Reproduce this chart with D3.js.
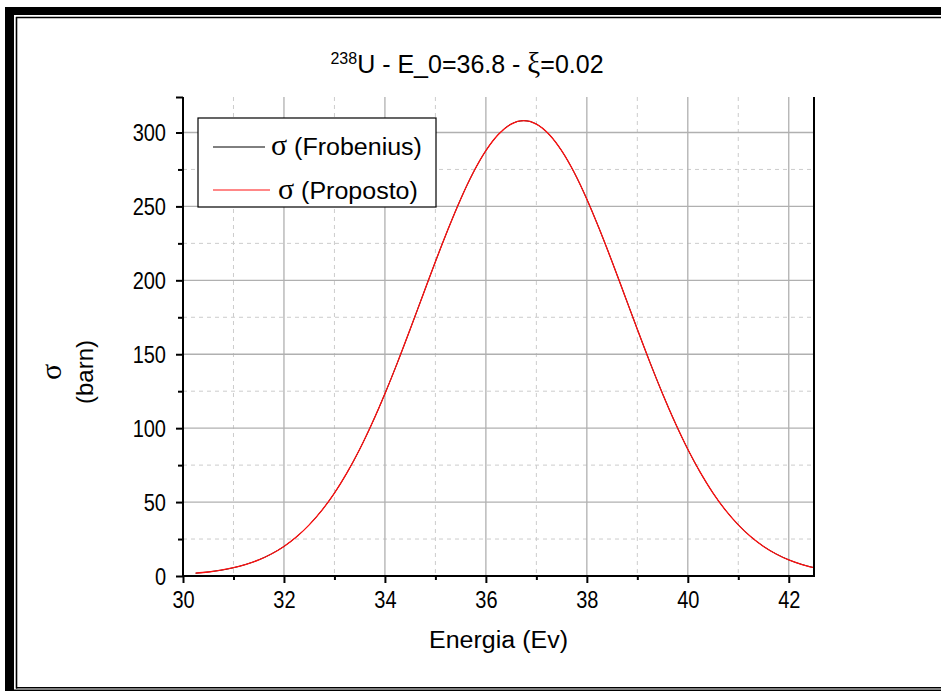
<!DOCTYPE html>
<html>
<head>
<meta charset="utf-8">
<script src="https://cdn.jsdelivr.net/npm/d3@7"></script>
<style>
  html, body { margin: 0; padding: 0; background: #fff; }
  svg { display: block; font-family: Arial, "Liberation Sans", sans-serif; }
</style>
</head>
<body>
<svg id="chart" width="941" height="691"></svg>
<script>
// ---- data ----
const energy = [30.25, 30.5, 30.75, 31, 31.25, 31.5, 31.75, 32, 32.25, 32.5, 32.75, 33,
  33.25, 33.5, 33.75, 34, 34.25, 34.5, 34.75, 35, 35.25, 35.5, 35.75, 36, 36.25, 36.5,
  36.75, 37, 37.25, 37.5, 37.75, 38, 38.25, 38.5, 38.75, 39, 39.25, 39.5, 39.75, 40,
  40.25, 40.5, 40.75, 41, 41.25, 41.5, 41.75, 42, 42.25, 42.5];
const sigmaFrobenius = [1.9, 2.7, 3.9, 5.6, 7.9, 10.9, 14.9, 20.0, 26.5, 34.6, 44.4, 56.1,
  69.9, 85.7, 103.6, 123.3, 144.5, 166.9, 189.8, 212.6, 234.5, 254.9, 272.9, 287.7, 298.8, 305.7,
  308.0, 305.7, 298.8, 287.7, 272.9, 254.9, 234.5, 212.6, 189.8, 166.9, 144.5, 123.3, 103.6, 85.7,
  69.9, 56.1, 44.4, 34.6, 26.5, 20.0, 14.9, 10.9, 7.9, 5.6];
const sigmaProposto = [1.9, 2.7, 3.9, 5.6, 7.9, 10.9, 14.9, 20.0, 26.5, 34.6, 44.4, 56.1,
  69.9, 85.7, 103.6, 123.3, 144.5, 166.9, 189.8, 212.6, 234.5, 254.9, 272.9, 287.7, 298.8, 305.7,
  308.0, 305.7, 298.8, 287.7, 272.9, 254.9, 234.5, 212.6, 189.8, 166.9, 144.5, 123.3, 103.6, 85.7,
  69.9, 56.1, 44.4, 34.6, 26.5, 20.0, 14.9, 10.9, 7.9, 5.6];
const xMajorTicks = [30, 32, 34, 36, 38, 40, 42];
const xMinorTicks = [31, 33, 35, 37, 39, 41];
const yMajorTicks = [0, 50, 100, 150, 200, 250, 300];
const yMinorTicks = [25, 75, 125, 175, 225, 275];
const xDomain = [30, 42.5];
const yDomain = [0, 324];
const seriesNames = [" (Frobenius)", " (Proposto)"];
const seriesColors = ["#000000", "#ff1010"];

// ---- layout ----
const svg = d3.select("#chart");
const L = 183, R = 814, T = 97, B = 576;
const x = d3.scaleLinear().domain(xDomain).range([L, R]);
const y = d3.scaleLinear().domain(yDomain).range([B, T]);
const SERIF = '"Liberation Serif", "DejaVu Serif", serif';

// stretch text vertically: glyph widths of `wSize`, glyph heights of `hSize`
function stretch(sel, wSize, hSize) {
  sel.each(function () {
    const t = d3.select(this);
    t.style("font-size", wSize + "px");
    const w = this.getComputedTextLength();
    t.style("font-size", hSize + "px").attr("textLength", w).attr("lengthAdjust", "spacingAndGlyphs");
  });
}

// frame
svg.append("rect").attr("x", 5).attr("y", 7).attr("width", 936).attr("height", 8).attr("fill", "#000");
svg.append("rect").attr("x", 5).attr("y", 7).attr("width", 9).attr("height", 684).attr("fill", "#000");
svg.append("rect").attr("x", 5).attr("y", 689.5).attr("width", 936).attr("height", 1.5).attr("fill", "#000");
svg.append("line").attr("x1", 16.5).attr("x2", 16.5).attr("y1", 17).attr("y2", 688.5).attr("stroke", "#000").attr("stroke-width", 1.6);
svg.append("line").attr("x1", 16).attr("x2", 941).attr("y1", 17.5).attr("y2", 17.5).attr("stroke", "#000").attr("stroke-width", 1.6);
svg.append("line").attr("x1", 16).attr("x2", 941).attr("y1", 687.8).attr("y2", 687.8).attr("stroke", "#000").attr("stroke-width", 1.6);

// grid
const grid = svg.append("g");
grid.selectAll(".gxm").data(xMinorTicks).join("line")
  .attr("x1", d => x(d)).attr("x2", d => x(d)).attr("y1", T).attr("y2", B)
  .attr("stroke", "#cccccc").attr("stroke-width", 1).attr("stroke-dasharray", "4,4");
grid.selectAll(".gym").data(yMinorTicks).join("line")
  .attr("x1", L).attr("x2", R).attr("y1", d => y(d)).attr("y2", d => y(d))
  .attr("stroke", "#cccccc").attr("stroke-width", 1).attr("stroke-dasharray", "4,4");
grid.selectAll(".gx").data(xMajorTicks.filter(d => d !== xDomain[0])).join("line")
  .attr("x1", d => x(d)).attr("x2", d => x(d)).attr("y1", T).attr("y2", B)
  .attr("stroke", "#b0b0b0").attr("stroke-width", 1.3);
grid.selectAll(".gy").data(yMajorTicks.filter(d => d !== 0)).join("line")
  .attr("x1", L).attr("x2", R).attr("y1", d => y(d)).attr("y2", d => y(d))
  .attr("stroke", "#b0b0b0").attr("stroke-width", 1.3);

// curves
const line = d3.line().x((d, i) => x(energy[i])).y(d => y(d)).curve(d3.curveMonotoneX);
svg.append("path").datum(sigmaFrobenius).attr("d", line)
  .attr("fill", "none").attr("stroke", seriesColors[0]).attr("stroke-width", 1);
svg.append("path").datum(sigmaProposto).attr("d", line)
  .attr("fill", "none").attr("stroke", seriesColors[1]).attr("stroke-width", 1.3);

// axes
const xAxis = svg.append("g").attr("transform", `translate(0,${B})`)
  .call(d3.axisBottom(x).tickValues(xMajorTicks).tickSize(7).tickFormat(d3.format("d")));
svg.append("g").attr("transform", `translate(0,${B})`)
  .call(d3.axisBottom(x).tickValues(xMinorTicks).tickSize(4).tickFormat(""))
  .call(g => g.select(".domain").remove());
const yAxis = svg.append("g").attr("transform", `translate(${L},0)`)
  .call(d3.axisLeft(y).tickValues(yMajorTicks.concat([yDomain[1]])).tickSize(7).tickPadding(10)
    .tickFormat(d => yMajorTicks.includes(d) ? d3.format("d")(d) : ""));
svg.append("g").attr("transform", `translate(${L},0)`)
  .call(d3.axisLeft(y).tickValues(yMinorTicks).tickSize(5).tickFormat(""))
  .call(g => g.select(".domain").remove());

svg.selectAll(".tick line").attr("stroke", "#000").attr("stroke-width", 2);
svg.selectAll(".domain").attr("stroke", "#000").attr("stroke-width", 2);
xAxis.select(".domain").attr("d", `M${L},0H${R}`);
yAxis.select(".domain").attr("d", `M0,${T}V${B}`);
svg.selectAll(".tick text").attr("fill", "#000")
  .style("font-family", 'Arial, "Liberation Sans", sans-serif');
xAxis.selectAll(".tick text").attr("y", 32).attr("dy", null);
yAxis.selectAll(".tick text").attr("dy", "0.36em");
stretch(svg.selectAll(".tick text"), 20, 23);

// right border
svg.append("line").attr("x1", R).attr("x2", R).attr("y1", T).attr("y2", B + 1)
  .attr("stroke", "#000").attr("stroke-width", 2);

// title
const title = svg.append("text").attr("x", 467).attr("y", 73).attr("text-anchor", "middle")
  .attr("fill", "#000").style("font-size", "25px");
title.append("tspan").text("238").style("font-size", "16px").attr("dy", "-9");
title.append("tspan").text("U - E_0=36.8 - ").attr("dy", "9");
title.append("tspan").text("\u03BE").style("font-family", SERIF).style("font-size", "29px");
title.append("tspan").text("=0.02");

// axis titles
const xt = svg.append("text").attr("x", (L + R) / 2).attr("y", 648).attr("text-anchor", "middle")
  .attr("fill", "#000").text("Energia (Ev)");
stretch(xt, 25, 23.5);
svg.append("text").attr("transform", "translate(61,372) rotate(-90)").attr("text-anchor", "middle")
  .attr("fill", "#000").style("font-family", SERIF).style("font-size", "30px").text("\u03C3");
const s2 = svg.append("text").attr("transform", "translate(93,372) rotate(-90)").attr("text-anchor", "middle")
  .attr("fill", "#000").text("(barn)");
stretch(s2, 24, 24);

// legend
const lg = svg.append("g");
lg.append("rect").attr("x", 198).attr("y", 118).attr("width", 238).attr("height", 89)
  .attr("fill", "#fff").attr("stroke", "#000").attr("stroke-width", 1.2);
const legendRows = [
  { name: seriesNames[0], color: seriesColors[0], x1: 213, x2: 265, tx: 271, y: 147, base: 155 },
  { name: seriesNames[1], color: seriesColors[1], x1: 213, x2: 270, tx: 278, y: 190, base: 199 }
];
legendRows.forEach(r => {
  lg.append("line").attr("x1", r.x1).attr("x2", r.x2).attr("y1", r.y).attr("y2", r.y)
    .attr("stroke", r.color).attr("stroke-width", 1);
  const t = lg.append("text").attr("x", r.tx).attr("y", r.base).attr("fill", "#000");
  t.append("tspan").text("\u03C3").style("font-family", SERIF).style("font-size", "30px");
  const rest = t.append("tspan").text(r.name);
  stretch(rest, 25, 23);
});
</script>
</body>
</html>
